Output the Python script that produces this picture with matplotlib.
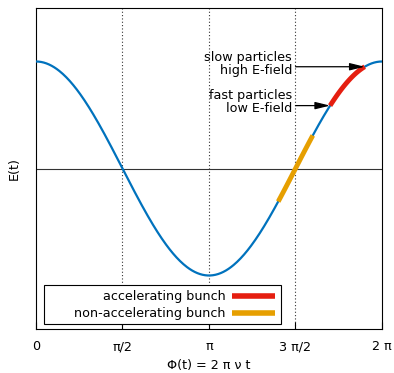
import numpy as np
import matplotlib
matplotlib.use("Agg")
import matplotlib.pyplot as plt
from matplotlib.patches import Rectangle

# data
tick_pos = [0, np.pi/2, np.pi, 3*np.pi/2, 2*np.pi]
tick_labels = ["0", "π/2", "π", "3 π/2", "2 π"]
accel_range = [1.7*np.pi, 1.9*np.pi]
nonaccel_range = [1.4*np.pi, 1.6*np.pi]
ann_slow_phase = 1.9*np.pi
ann_fast_phase = 1.7*np.pi

blue = "#0072bd"
red = "#e51e10"
orange = "#e69f00"
fs = 9.2

fig = plt.figure(figsize=(3.94, 3.73), dpi=100)
ax = fig.add_axes([36/394, 1-329/373, 346/394, 321/373])

phi = np.linspace(0, 2*np.pi, 400)
ax.plot(phi, np.cos(phi), color=blue, lw=1.6, zorder=3)

pa = np.linspace(*accel_range, 100)
ax.plot(pa, np.cos(pa), color=red, lw=3.5, zorder=4, label="accelerating bunch", solid_capstyle="butt")
pn = np.linspace(*nonaccel_range, 100)
ax.plot(pn, np.cos(pn), color=orange, lw=3.5, zorder=4, label="non-accelerating bunch", solid_capstyle="butt")

ax.axhline(0, color="#333333", lw=0.8, zorder=2)
for x in tick_pos[1:4]:
    ax.axvline(x, color="#333333", lw=0.8, ls=(0, (1, 2)), zorder=1)

ax.set_xlim(0, 2*np.pi)
ax.set_ylim(-1.5, 1.5)
ax.set_xticks(tick_pos)
ax.set_xticklabels(tick_labels, fontsize=fs)
ax.set_yticks([])
ax.tick_params(axis="x", direction="in", length=5, pad=8)
ax.set_xlabel("Φ(t) = 2 π ν t", fontsize=fs, labelpad=4.5)
ax.set_ylabel("E(t)", fontsize=fs, labelpad=11)

x_text = 3*np.pi/2
for ph, txt in [(ann_slow_phase, "slow particles\nhigh E-field"),
                (ann_fast_phase, "fast particles\nlow E-field")]:
    y = np.cos(ph)
    ax.annotate("", xy=(ph, y), xytext=(x_text, y),
                arrowprops=dict(arrowstyle="-|>,head_length=0.9,head_width=0.22", color="black", lw=0.9, shrinkA=0, shrinkB=0),
                zorder=5)
    ax.text(x_text - 0.06, y + 0.03, txt, ha="right", va="center", fontsize=fs, linespacing=1.0)

leg = ax.legend(loc="lower right", bbox_to_anchor=(0.691, 0.028), fontsize=fs, markerfirst=False,
                frameon=False, handlelength=3.4, handletextpad=0.5,
                borderpad=0, borderaxespad=0, labelspacing=0.28)
for h in leg.legend_handles:
    h.set_linewidth(4)
ax.add_patch(Rectangle((0.023, 0.0156), 0.708 - 0.023, 0.137 - 0.0156, transform=ax.transAxes,
                       fill=True, facecolor="white", edgecolor="black", lw=0.8, zorder=6))
leg.set_zorder(7)

fig.savefig("out.png", dpi=100)
